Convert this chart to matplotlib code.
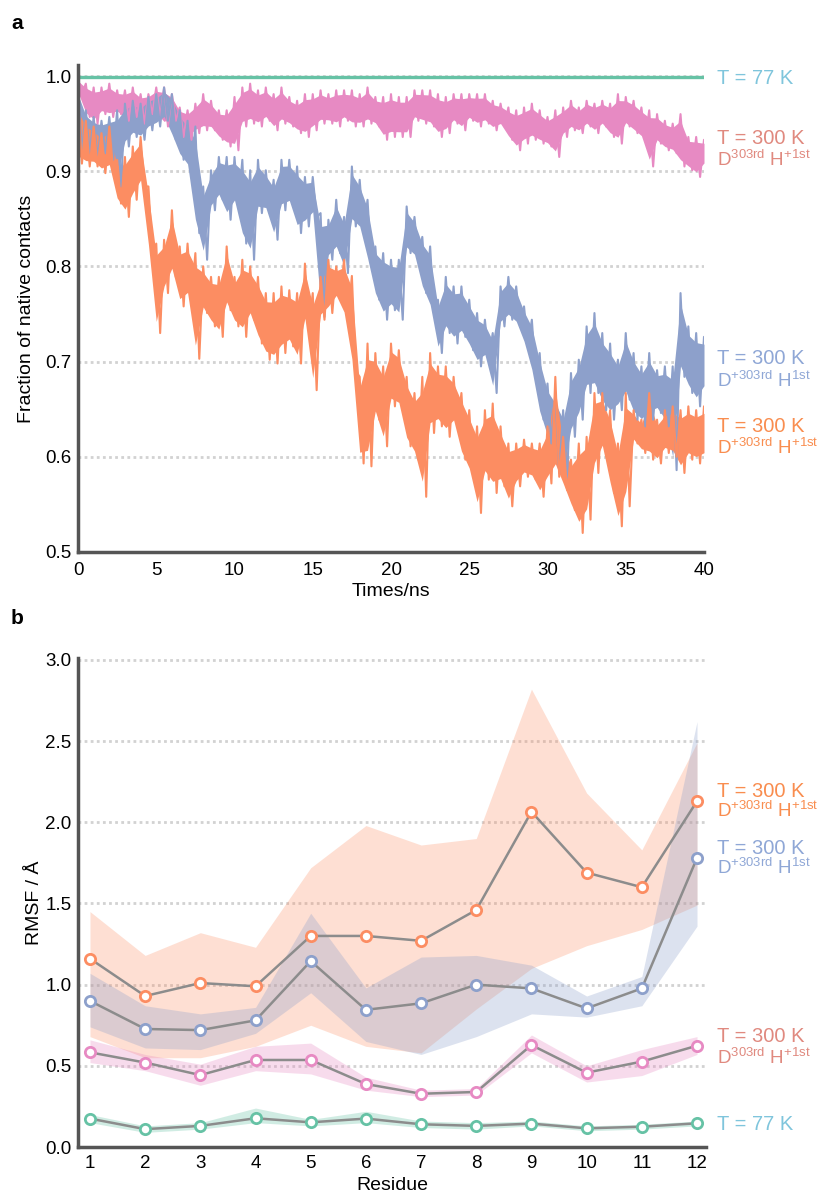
import numpy as np
import matplotlib
matplotlib.use("Agg")
import matplotlib.pyplot as plt

plt.rcParams['font.family'] = ['Liberation Sans', 'DejaVu Sans']
plt.rcParams['mathtext.fontset'] = 'custom'
plt.rcParams['mathtext.rm'] = 'Liberation Sans'
plt.rcParams['mathtext.it'] = 'Liberation Sans'
plt.rcParams['mathtext.bf'] = 'Liberation Sans:bold'

# ---------------- Panel a data (upper / lower envelope of noisy traces, every 0.5 ns) -------------
time_ns = np.arange(0, 40.5, 0.5)

pink_hi = [0.997, 0.992, 0.988, 0.988, 0.992, 0.985, 0.985, 0.988, 0.981, 0.981,
           0.988, 0.988, 0.981, 0.967, 0.964, 0.971, 0.981, 0.974, 0.964, 0.964,
           0.978, 0.988, 0.992, 0.985, 0.988, 0.981, 0.988, 0.978, 0.974, 0.981,
           0.981, 0.985, 0.981, 0.985, 0.985, 0.985, 0.981, 0.988, 0.978, 0.978,
           0.981, 0.978, 0.978, 0.985, 0.985, 0.985, 0.981, 0.978, 0.981, 0.981,
           0.981, 0.981, 0.981, 0.974, 0.971, 0.967, 0.964, 0.967, 0.971, 0.964,
           0.957, 0.964, 0.967, 0.974, 0.967, 0.974, 0.971, 0.974, 0.971, 0.981,
           0.978, 0.974, 0.967, 0.964, 0.960, 0.953, 0.950, 0.960, 0.936, 0.936,
           0.933]
pink_lo = [0.981, 0.957, 0.950, 0.960, 0.957, 0.960, 0.953, 0.957, 0.950, 0.960,
           0.957, 0.947, 0.953, 0.936, 0.933, 0.940, 0.943, 0.943, 0.933, 0.926,
           0.922, 0.947, 0.950, 0.947, 0.953, 0.943, 0.950, 0.947, 0.940, 0.936,
           0.943, 0.950, 0.950, 0.947, 0.953, 0.947, 0.947, 0.950, 0.947, 0.933,
           0.936, 0.936, 0.936, 0.953, 0.950, 0.947, 0.936, 0.940, 0.950, 0.943,
           0.953, 0.947, 0.950, 0.943, 0.947, 0.933, 0.922, 0.929, 0.933, 0.929,
           0.926, 0.915, 0.936, 0.943, 0.940, 0.947, 0.940, 0.947, 0.936, 0.929,
           0.947, 0.940, 0.933, 0.905, 0.929, 0.922, 0.919, 0.905, 0.901, 0.894,
           0.905]

blue_hi = [0.990, 0.964, 0.957, 0.953, 0.957, 0.964, 0.971, 0.974, 0.971, 0.978,
           0.981, 0.988, 0.981, 0.964, 0.953, 0.947, 0.884, 0.901, 0.915, 0.915,
           0.915, 0.912, 0.901, 0.912, 0.901, 0.891, 0.912, 0.912, 0.905, 0.894,
           0.894, 0.856, 0.849, 0.870, 0.852, 0.905, 0.891, 0.870, 0.821, 0.814,
           0.807, 0.807, 0.863, 0.852, 0.831, 0.821, 0.765, 0.789, 0.779, 0.779,
           0.765, 0.751, 0.744, 0.730, 0.779, 0.789, 0.779, 0.758, 0.744, 0.709,
           0.677, 0.667, 0.649, 0.688, 0.702, 0.737, 0.751, 0.730, 0.719, 0.702,
           0.730, 0.709, 0.695, 0.709, 0.691, 0.695, 0.695, 0.772, 0.737, 0.730,
           0.726]
blue_lo = [0.919, 0.919, 0.912, 0.919, 0.912, 0.884, 0.926, 0.936, 0.933, 0.943,
           0.947, 0.953, 0.933, 0.912, 0.901, 0.835, 0.807, 0.859, 0.870, 0.849,
           0.863, 0.824, 0.807, 0.856, 0.856, 0.828, 0.859, 0.863, 0.835, 0.842,
           0.852, 0.747, 0.807, 0.814, 0.793, 0.842, 0.835, 0.800, 0.765, 0.744,
           0.754, 0.744, 0.814, 0.807, 0.772, 0.751, 0.709, 0.730, 0.719, 0.726,
           0.712, 0.695, 0.702, 0.667, 0.737, 0.744, 0.737, 0.716, 0.684, 0.639,
           0.614, 0.583, 0.575, 0.621, 0.639, 0.667, 0.667, 0.649, 0.639, 0.649,
           0.660, 0.639, 0.632, 0.639, 0.646, 0.632, 0.586, 0.684, 0.667, 0.653,
           0.667]

orange_hi = [0.971, 0.953, 0.947, 0.940, 0.947, 0.912, 0.915, 0.926, 0.936, 0.884,
             0.824, 0.828, 0.859, 0.821, 0.824, 0.814, 0.800, 0.789, 0.789, 0.821,
             0.789, 0.807, 0.800, 0.789, 0.772, 0.772, 0.779, 0.775, 0.772, 0.803,
             0.772, 0.789, 0.807, 0.800, 0.807, 0.790, 0.684, 0.719, 0.709, 0.695,
             0.719, 0.712, 0.684, 0.667, 0.684, 0.709, 0.695, 0.695, 0.684, 0.667,
             0.649, 0.632, 0.649, 0.656, 0.632, 0.614, 0.614, 0.618, 0.614, 0.614,
             0.632, 0.684, 0.621, 0.597, 0.614, 0.621, 0.667, 0.667, 0.649, 0.614,
             0.667, 0.649, 0.639, 0.667, 0.639, 0.649, 0.653, 0.649, 0.653, 0.649,
             0.653]
orange_lo = [0.908, 0.905, 0.905, 0.898, 0.901, 0.866, 0.852, 0.870, 0.884, 0.814,
             0.730, 0.772, 0.789, 0.758, 0.765, 0.703, 0.751, 0.737, 0.726, 0.754,
             0.737, 0.726, 0.744, 0.719, 0.702, 0.698, 0.709, 0.716, 0.698, 0.737,
             0.670, 0.744, 0.751, 0.765, 0.744, 0.690, 0.593, 0.590, 0.639, 0.611,
             0.653, 0.649, 0.611, 0.597, 0.558, 0.625, 0.632, 0.621, 0.632, 0.597,
             0.579, 0.541, 0.576, 0.562, 0.569, 0.548, 0.569, 0.579, 0.576, 0.558,
             0.572, 0.579, 0.565, 0.544, 0.520, 0.534, 0.583, 0.604, 0.562, 0.527,
             0.548, 0.614, 0.604, 0.597, 0.593, 0.604, 0.600, 0.583, 0.597, 0.593,
             0.597]

green_t = [0, 10, 20, 30, 40]
green_v = [0.999, 0.999, 0.999, 0.999, 0.999]

# ---------------- Panel b data (RMSF per residue, mean with band) ----------------
residues = list(range(1, 13))
orange_mean = [1.16, 0.93, 1.01, 0.99, 1.30, 1.30, 1.27, 1.46, 2.065, 1.69, 1.60, 2.13]
orange_up = [1.45, 1.18, 1.32, 1.23, 1.72, 1.98, 1.86, 1.90, 2.82, 2.18, 1.83, 2.49]
orange_dn = [0.68, 0.55, 0.55, 0.62, 0.75, 0.62, 0.58, 0.85, 1.10, 1.24, 1.34, 1.49]

blue_mean = [0.90, 0.727, 0.72, 0.78, 1.145, 0.845, 0.885, 1.00, 0.977, 0.854, 0.977, 1.78]
blue_up = [1.07, 0.87, 0.82, 0.86, 1.44, 0.98, 1.17, 1.18, 1.12, 0.93, 1.05, 2.62]
blue_dn = [0.74, 0.61, 0.60, 0.70, 0.95, 0.65, 0.57, 0.68, 0.82, 0.80, 0.87, 1.36]

pink_mean = [0.583, 0.52, 0.443, 0.536, 0.536, 0.388, 0.328, 0.339, 0.628, 0.458, 0.526, 0.624]
pink_up = [0.66, 0.57, 0.51, 0.62, 0.64, 0.43, 0.35, 0.36, 0.69, 0.50, 0.60, 0.68]
pink_dn = [0.52, 0.47, 0.38, 0.47, 0.45, 0.35, 0.31, 0.32, 0.58, 0.40, 0.44, 0.57]

green_mean = [0.175, 0.11, 0.13, 0.177, 0.152, 0.175, 0.14, 0.13, 0.144, 0.115, 0.125, 0.146]
green_up = [0.20, 0.13, 0.15, 0.24, 0.17, 0.22, 0.16, 0.15, 0.16, 0.13, 0.14, 0.16]
green_dn = [0.15, 0.09, 0.11, 0.15, 0.13, 0.15, 0.12, 0.11, 0.13, 0.10, 0.11, 0.13]

C_GREEN = '#66c2a5'
C_ORANGE = '#fc8d62'
C_BLUE = '#8da0cb'
C_PINK = '#e78ac3'
L_CYAN = '#7fc5dc'
L_SALMON = '#e0897f'
L_BLUE = '#8fa7d6'
L_ORANGE = '#f98d4f'

W, H = 819, 1192
fig = plt.figure(figsize=(W / 100, H / 100), dpi=100)


def fx(px):
    return px / W


def fy(py):
    return 1 - py / H


def style_axes(ax):
    for s in ['top', 'right']:
        ax.spines[s].set_visible(False)
    for s in ['left', 'bottom']:
        ax.spines[s].set_color('#555555')
        ax.spines[s].set_linewidth(2.5)
    ax.tick_params(length=0, labelsize=13.5, colors='black')
    ax.tick_params(axis='y', pad=4.5)
    ax.yaxis.grid(True, linestyle=(0, (1, 1.2)), color='#d2d2d2', linewidth=2.0)
    ax.set_axisbelow(True)


def jagged(t, hi, lo):
    t = np.asarray(t, dtype=float)
    x = np.empty(2 * len(t))
    y = np.empty(2 * len(t))
    x[0::2] = t
    x[1::2] = t + 0.25
    y[0::2] = hi
    y[1::2] = lo
    return x, y


# ---------------- Panel a ----------------
ax_a = fig.add_axes([fx(78), fy(552), (704 - 78) / W, (552 - 65) / H])
style_axes(ax_a)
for hi, lo, col in [(pink_hi, pink_lo, C_PINK), (blue_hi, blue_lo, C_BLUE),
                    (orange_hi, orange_lo, C_ORANGE)]:
    hi_a = np.asarray(hi)
    lo_a = np.asarray(lo)
    span = hi_a - lo_a
    # solid core of the noisy band
    ax_a.fill_between(time_ns, lo_a + 0.13 * span, hi_a - 0.13 * span, color=col, lw=0)
    # spiky excursions
    x, y = jagged(time_ns, hi_a, lo_a)
    ax_a.plot(x, y, color=col, lw=1.5)
ax_a.plot(green_t, green_v, color=C_GREEN, lw=2.4)
ax_a.set_xlim(0, 40)
ax_a.set_ylim(0.5, 1.0116)
ax_a.set_xticks(range(0, 41, 5))
ax_a.set_yticks([0.5, 0.6, 0.7, 0.8, 0.9, 1.0])
ax_a.set_yticklabels(['0.5', '0.6', '0.7', '0.8', '0.9', '1.0'])
ax_a.tick_params(axis='x', pad=7.5)
ax_a.set_xlabel('Times/ns', fontsize=14)
ax_a.xaxis.set_label_coords(0.5, -0.063)
ax_a.set_ylabel('Fraction of native contacts', fontsize=14)
ax_a.yaxis.set_label_coords(-0.068, 0.5)

# ---------------- Panel b ----------------
ax_b = fig.add_axes([fx(78), fy(1147), (706 - 78) / W, (1147 - 658) / H])
style_axes(ax_b)
for up, dn, col, a in [(orange_up, orange_dn, C_ORANGE, 0.28), (blue_up, blue_dn, C_BLUE, 0.30),
                       (pink_up, pink_dn, C_PINK, 0.30), (green_up, green_dn, C_GREEN, 0.30)]:
    ax_b.fill_between(residues, dn, up, color=col, alpha=a, lw=0)
for mean, col in [(orange_mean, C_ORANGE), (blue_mean, C_BLUE), (pink_mean, C_PINK),
                  (green_mean, C_GREEN)]:
    ax_b.plot(residues, mean, color='#8c8c8c', lw=1.8, zorder=3)
    ax_b.plot(residues, mean, ls='none', marker='o', ms=7.4, mfc='white', mec=col,
              mew=2.0, zorder=4)
ax_b.set_xlim(0.783, 12.163)
ax_b.set_ylim(0, 3.012)
ax_b.set_xticks(residues)
ax_b.set_yticks([0, 0.5, 1.0, 1.5, 2.0, 2.5, 3.0])
ax_b.set_yticklabels(['0.0', '0.5', '1.0', '1.5', '2.0', '2.5', '3.0'])
ax_b.tick_params(axis='x', pad=6)
ax_b.set_xlabel('Residue', fontsize=14)
ax_b.xaxis.set_label_coords(0.5, -0.061)
ax_b.set_ylabel('RMSF / Å', fontsize=14)
ax_b.yaxis.set_label_coords(-0.056, 0.5)

# ---------------- Right-side labels ----------------
D1 = r'D$^{\mathregular{303rd}}$ H$^{\mathregular{+1st}}$'
D2 = r'D$^{\mathregular{+303rd}}$ H$^{\mathregular{1st}}$'
D3 = r'D$^{\mathregular{+303rd}}$ H$^{\mathregular{+1st}}$'
labels = [
    (84, 'T = 77 K', L_CYAN, 14.5),
    (144, 'T = 300 K', L_SALMON, 14.5), (166, D1, L_SALMON, 13.5),
    (364, 'T = 300 K', L_BLUE, 14.5), (387, D2, L_BLUE, 13.5),
    (432, 'T = 300 K', L_ORANGE, 14.5), (454, D3, L_ORANGE, 13.5),
    (797, 'T = 300 K', L_ORANGE, 14.5), (817, D3, L_ORANGE, 13.5),
    (854, 'T = 300 K', L_BLUE, 14.5), (874, D2, L_BLUE, 13.5),
    (1042, 'T = 300 K', L_SALMON, 14.5), (1064, D1, L_SALMON, 13.5),
    (1130, 'T = 77 K', L_CYAN, 14.5),
]
for yb, txt, col, fs in labels:
    fig.text(fx(717), fy(yb), txt, color=col, fontsize=fs, va='baseline', ha='left')

fig.text(fx(11), fy(29), 'a', fontsize=15, fontweight='bold', va='baseline')
fig.text(fx(11), fy(624), 'b', fontsize=15, fontweight='bold', va='baseline')

fig.savefig('out.png', dpi=100)
